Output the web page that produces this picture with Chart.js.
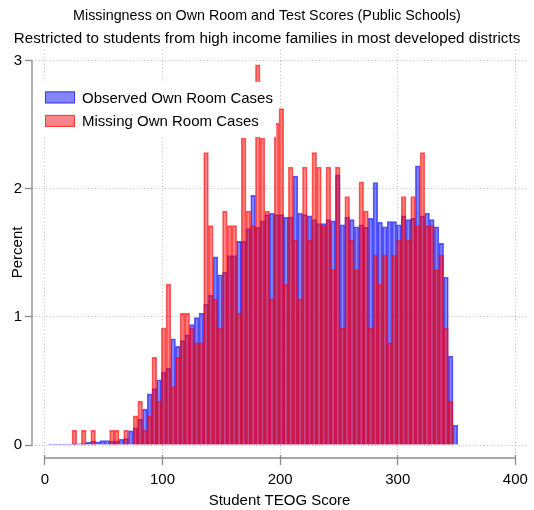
<!DOCTYPE html>
<html>
<head>
<meta charset="utf-8">
<script src="https://cdn.jsdelivr.net/npm/chart.js@4"></script>
<style>
  html, body { margin: 0; padding: 0; background: #ffffff; }
  #c { display: block; }
</style>
</head>
<body>
<canvas id="c" width="534" height="510"></canvas>
<script>
// ---------------- data ----------------
const chartTitle = "Missingness on Own Room and Test Scores (Public Schools)";
const chartSubtitle = "Restricted to students from high income families in most developed districts";
const xAxisTitle = "Student TEOG Score";
const yAxisTitle = "Percent";
const seriesLabels = ["Observed Own Room Cases", "Missing Own Room Cases"];

// histogram bin centres (width 4)
const scoreBins = [
  5, 9, 13, 17, 21, 25, 29, 33, 37, 41,
  45, 49, 53, 57, 61, 65, 69, 73, 77, 81,
  85, 89, 93, 97, 101, 105, 109, 113, 117, 121,
  125, 129, 133, 137, 141, 145, 149, 153, 157, 161,
  165, 169, 173, 177, 181, 185, 189, 193, 197, 201,
  205, 209, 213, 217, 221, 225, 229, 233, 237, 241,
  245, 249, 253, 257, 261, 265, 269, 273, 277, 281,
  285, 289, 293, 297, 301, 305, 309, 313, 317, 321,
  325, 329, 333, 337, 341, 345, 349
];

// percent of observed cases per bin
const observedPct = [
  0.008, 0.008, 0.008, 0.008, 0.008, 0.010, 0.010, 0.012, 0.020, 0.030,
  0.025, 0.035, 0.035, 0.030, 0.030, 0.045, 0.050, 0.110, 0.135, 0.200,
  0.280, 0.400, 0.440, 0.510, 0.570, 0.600, 0.830, 0.770, 0.815, 0.860,
  0.940, 0.995, 1.030, 1.100, 1.170, 1.470, 1.330, 1.350, 1.480, 1.480,
  1.590, 1.590, 1.690, 1.950, 1.700, 1.750, 1.800, 1.810, 1.800, 1.800,
  1.780, 1.780, 2.100, 1.810, 1.800, 1.790, 1.760, 1.730, 1.730, 1.760,
  1.750, 2.110, 1.720, 1.780, 1.760, 1.705, 1.720, 1.700, 1.770, 2.050,
  1.740, 1.705, 1.745, 1.745, 1.720, 1.790, 1.760, 1.770, 2.180, 1.790,
  1.810, 1.760, 1.705, 1.575, 1.310, 0.695, 0.156
];

// percent of missing cases per bin
const missingPct = [
  0, 0, 0, 0, 0, 0.114, 0, 0.114, 0, 0.114,
  0, 0, 0, 0.114, 0.114, 0, 0.114, 0, 0.228, 0.343,
  0.114, 0.228, 0.685, 0.343, 0.914, 1.256, 0.457, 0.685, 1.028, 1.028,
  0.914, 0.799, 0.799, 2.284, 1.713, 1.142, 0.914, 1.827, 1.713, 1.713,
  1.028, 2.398, 1.827, 1.713, 2.969, 2.398, 1.827, 1.142, 2.512, 2.627,
  1.256, 2.170, 1.599, 1.142, 2.170, 1.599, 2.284, 2.170, 1.713, 2.170,
  1.370, 2.170, 0.914, 1.941, 1.599, 1.370, 2.055, 1.827, 0.914, 1.484,
  1.256, 1.484, 0.799, 1.484, 1.599, 1.941, 1.599, 1.941, 1.713, 2.284,
  1.713, 1.713, 1.370, 1.484, 0.914, 0.343, 0
];

const xTicks = [0, 100, 200, 300, 400];
const yTicks = [0, 1, 2, 3];

// ---------------- styling ----------------
const FONT = "'Liberation Sans', Arial, Helvetica, sans-serif";
const AXIS_GRAY = '#8a8a8a';
const GRID_COLOR = 'rgba(0,0,0,0.28)';

const axisLines = {
  id: 'axisLines',
  beforeDatasetsDraw(chart) {
    const { ctx, chartArea } = chart;
    const x = chart.scales.x, y = chart.scales.y;
    ctx.save();
    ctx.strokeStyle = AXIS_GRAY;
    ctx.lineWidth = 1.3;
    ctx.setLineDash([]);
    ctx.beginPath();
    ctx.moveTo(chartArea.left, y.getPixelForValue(yTicks[0]) + 0.6);
    ctx.lineTo(chartArea.left, y.getPixelForValue(yTicks[yTicks.length - 1]) - 0.6);
    const ay = chartArea.bottom + 3;
    ctx.moveTo(x.getPixelForValue(xTicks[0]) - 0.6, ay);
    ctx.lineTo(x.getPixelForValue(xTicks[xTicks.length - 1]) + 0.6, ay);
    ctx.stroke();
    ctx.restore();
  }
};

const boxLegend = {
  id: 'boxLegend',
  afterDatasetsDraw(chart) {
    const { ctx, chartArea } = chart;
    const L = chartArea.left, T = chartArea.top;
    ctx.save();
    ctx.fillStyle = '#ffffff';
    ctx.fillRect(L + 6, T + 32, 238, 55);
    const order = [0, 1];
    order.forEach((di, row) => {
      const ds = chart.data.datasets[di];
      const cy = T + 47.5 + row * 23.5;
      ctx.fillStyle = ds.backgroundColor;
      ctx.fillRect(L + 13, cy - 6, 30, 12);
      ctx.strokeStyle = ds.borderColor;
      ctx.lineWidth = 1;
      ctx.strokeRect(L + 13.5, cy - 5.5, 29, 11);
      ctx.fillStyle = '#000000';
      ctx.font = '15px ' + FONT;
      ctx.textAlign = 'left';
      ctx.textBaseline = 'middle';
      ctx.fillText(ds.label, L + 50, cy + 1);
    });
    ctx.restore();
  }
};

const ctx = document.getElementById('c').getContext('2d');
new Chart(ctx, {
  type: 'bar',
  data: {
    datasets: [
      {
        label: seriesLabels[0],
        data: scoreBins.map((v, i) => ({ x: v, y: observedPct[i] })),
        backgroundColor: 'rgba(0,0,255,0.48)',
        borderColor: 'rgba(0,0,255,0.62)',
        borderWidth: 1,
        grouped: false,
        categoryPercentage: 1,
        barPercentage: 1,
        order: 2
      },
      {
        label: seriesLabels[1],
        data: scoreBins.map((v, i) => ({ x: v, y: missingPct[i] })),
        backgroundColor: 'rgba(255,0,0,0.48)',
        borderColor: 'rgba(255,0,0,0.62)',
        borderWidth: 1,
        grouped: false,
        categoryPercentage: 1,
        barPercentage: 1,
        order: 1
      }
    ]
  },
  options: {
    responsive: false,
    animation: false,
    devicePixelRatio: 1,
    layout: { padding: { left: 6, right: 6, top: 0, bottom: 0 }, autoPadding: false },
    plugins: {
      legend: { display: false },
      tooltip: { enabled: false },
      title: {
        display: true,
        text: chartTitle,
        color: '#000000',
        font: { family: FONT, size: 14.3, weight: 'normal' },
        padding: { top: 7, bottom: 4 }
      },
      subtitle: {
        display: true,
        text: chartSubtitle,
        color: '#000000',
        font: { family: FONT, size: 15.2, weight: 'normal' },
        padding: { top: 1.5, bottom: 2 }
      }
    },
    scales: {
      x: {
        type: 'linear',
        bounds: 'data',
        min: -11,
        max: 410,
        offset: false,
        afterBuildTicks: (s) => { s.ticks = xTicks.map(v => ({ value: v })); },
        afterFit: (s) => { s.height = 55; },
        grid: {
          offset: false,
          color: GRID_COLOR,
          lineWidth: 1,
          drawTicks: true,
          tickLength: 10,
          tickColor: AXIS_GRAY,
          tickWidth: 1.3
        },
        border: { display: false, dash: [1, 2.5] },
        ticks: {
          autoSkip: false,
          maxRotation: 0,
          padding: 6,
          color: '#000000',
          font: { family: FONT, size: 15 }
        },
        title: {
          display: true,
          text: xAxisTitle,
          color: '#000000',
          font: { family: FONT, size: 15 },
          padding: { top: 0, bottom: 0 }
        }
      },
      y: {
        type: 'linear',
        bounds: 'data',
        min: -0.078,
        max: 3.086,
        afterBuildTicks: (s) => { s.ticks = yTicks.map(v => ({ value: v })); },
        afterFit: (s) => { s.width = 26; },
        grid: {
          color: GRID_COLOR,
          lineWidth: 1,
          drawTicks: true,
          tickLength: 7,
          tickColor: AXIS_GRAY,
          tickWidth: 1.3
        },
        border: { display: false, dash: [1, 2.5] },
        ticks: {
          padding: 3,
          color: '#000000',
          font: { family: FONT, size: 15 }
        },
        title: {
          display: true,
          text: yAxisTitle,
          color: '#000000',
          font: { family: FONT, size: 15 },
          padding: { top: 2.5, bottom: 0 }
        }
      }
    }
  },
  plugins: [axisLines, boxLegend]
});
</script>
</body>
</html>
